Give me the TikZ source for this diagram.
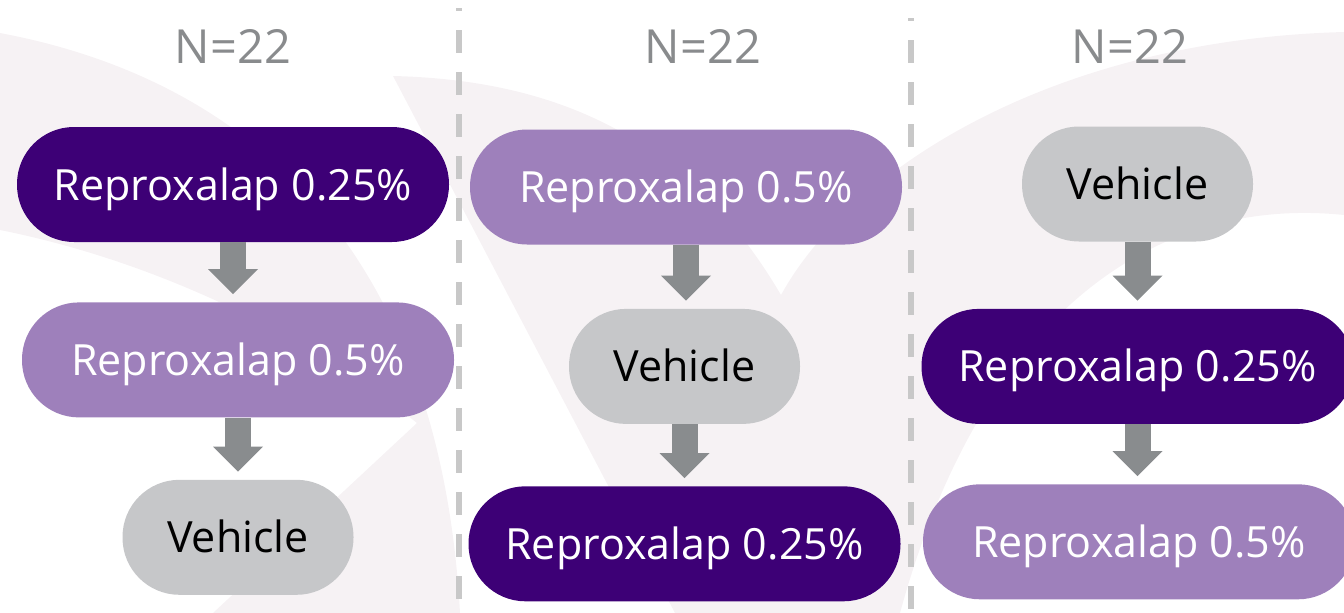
\documentclass[tikz,border=0pt]{standalone}
\usepackage{fontspec}
\setmainfont{Open Sans}
\usetikzlibrary{positioning,arrows.meta}
\definecolor{darkviolet}{RGB}{61,0,118}
\definecolor{lightviolet}{RGB}{158,128,187}
\definecolor{pillgray}{RGB}{198,199,201}
\definecolor{arrowgray}{RGB}{137,140,142}
\definecolor{labelgray}{RGB}{137,139,141}
\definecolor{sepgray}{RGB}{200,200,200}
\definecolor{watermark}{RGB}{246,242,244}

\begin{document}
\begin{tikzpicture}[
    x=1pt, y=-1pt,
    node distance=61pt,
    pill/.style={rectangle, rounded corners=57pt, minimum height=115pt, inner sep=0pt,
        text height=31pt, text depth=0pt, font=\fontsize{43}{49}\selectfont},
    dose25/.style={pill, minimum width=432pt, fill=darkviolet, text=white},
    dose50/.style={pill, minimum width=432pt, fill=lightviolet, text=white},
    vehicle/.style={pill, minimum width=231pt, fill=pillgray, text=black},
    count/.style={inner sep=0pt, text height=33pt, text depth=0pt, text=labelgray,
        font=\fontsize{47}{54}\selectfont},
    flow/.style={draw=arrowgray, line width=26pt, shorten >=8pt,
        -{Triangle[width=50pt, length=25pt, line width=0pt]}},
    separator/.style={draw=sepgray, line width=5.5pt, dash pattern=on 23pt off 19pt, dash phase=20pt}
]
    \useasboundingbox (0,0) rectangle (1344,613);

    \fill[watermark] (0,33) .. controls (250,80) and (440,250) .. (460,613) -- (213,613)
        -- (417,423) .. controls (300,330) and (150,260) .. (0,230) -- cycle;
    \fill[watermark] (393,76) .. controls (560,80) and (690,140) .. (781,295)
        .. controls (850,170) and (1050,40) .. (1344,32) -- (1344,215)
        .. controls (1150,195) and (980,320) .. (900,613) -- (675,613) -- cycle;

    \coordinate (s1top) at (459,8);
    \coordinate (s1bot) at (459,613);
    \coordinate (s2top) at (911,18);
    \coordinate (s2bot) at (911,613);
    \draw[separator] (s1top) -- (s1bot);
    \draw[separator] (s2top) -- (s2bot);

    \node[count] (n1) at (233,47) {N=22};
    \node[count] (n2) at (703,47) {N=22};
    \node[count] (n3) at (1130,47) {N=22};

    \node[dose25] (a1) at (233,184.5) {Reproxalap 0.25\%};
    \node[dose50, below=60pt of a1, xshift=5pt] (a2) {Reproxalap 0.5\%};
    \node[vehicle, below=62pt of a2] (a3) {Vehicle};

    \node[dose50] (b1) at (686,187) {Reproxalap 0.5\%};
    \node[vehicle, below=64pt of b1, xshift=-1.5pt] (b2) {Vehicle};
    \node[dose25, below=62pt of b2] (b3) {Reproxalap 0.25\%};

    \node[vehicle] (c1) at (1137.5,184) {Vehicle};
    \node[dose25, below=67pt of c1] (c2) {Reproxalap 0.25\%};
    \node[dose50, below=60pt of c2, xshift=1.5pt] (c3) {Reproxalap 0.5\%};

    \draw[flow] (a1.south) -- (a1.south |- a2.north);
    \draw[flow] (a2.south) -- (a2.south |- a3.north);
    \draw[flow] (b1.south) -- (b1.south |- b2.north);
    \draw[flow] (b2.south) -- (b2.south |- b3.north);
    \draw[flow] (c1.south) -- (c1.south |- c2.north);
    \draw[flow] (c2.south) -- (c2.south |- c3.north);
\end{tikzpicture}
\end{document}
